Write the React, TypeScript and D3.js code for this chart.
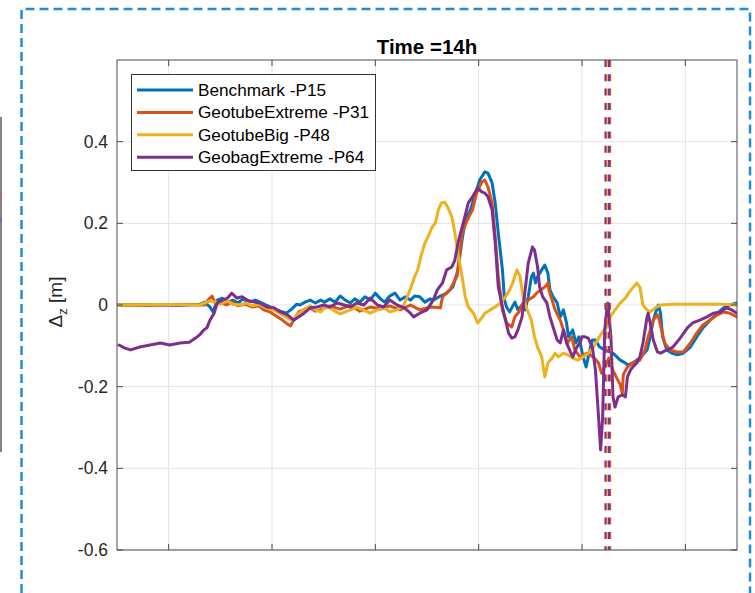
import React from "react";
import * as d3 from "d3";

// profile change dz [m] along the section, t = 14h
const seriesNames = [
  "Benchmark -P15",
  "GeotubeExtreme -P31",
  "GeotubeBig -P48",
  "GeobagExtreme -P64",
];
const seriesColors = ["#0072BD", "#D95319", "#EDB120", "#7E2F8E"];

const benchmark: [number, number][] = [
  [0, 0], [3, 0.001], [6, -0.001], [8, 0.002], [8.5, 0.007], [9, -0.005], [9.3, -0.017], [9.7, 0.012],
  [10.2, 0.017], [10.7, 0.007], [11.2, 0.012], [11.7, 0.005], [12.2, 0.015], [12.7, 0.007], [13.4, 0.012],
  [14, 0.005], [14.6, -0.002], [15.2, -0.01], [15.8, -0.015], [16.4, -0.02], [16.9, -0.01], [17.4, 0.002],
  [17.7, 0], [18.2, 0.007], [18.7, 0.012], [19.2, 0.005], [19.7, 0.012], [20.1, 0.007], [20.6, 0.015],
  [21.1, 0.007], [21.6, 0.022], [22.1, 0.012], [22.6, 0.005], [23, 0.015], [23.5, 0.007], [24, 0.02],
  [24.5, 0.012], [25, 0.029], [25.5, 0.015], [25.9, 0.007], [26.4, 0.022], [26.9, 0.029], [27.4, 0.012],
  [27.9, 0.02], [28.4, 0.012], [28.8, 0.022], [29.3, 0.02], [29.8, 0.007], [30.3, 0.015], [30.6, 0.012],
  [31.3, 0.022], [31.9, 0.029], [32.5, 0.044], [33, 0.086], [33.4, 0.16], [33.7, 0.208], [34.2, 0.233],
  [34.6, 0.265], [35.1, 0.306], [35.6, 0.326], [35.9, 0.323], [36.3, 0.299], [36.6, 0.25], [36.9, 0.176],
  [37.3, 0.086], [37.5, 0.012], [37.7, -0.005], [38, -0.017], [38.2, -0.007], [38.5, 0.007], [38.8, -0.012],
  [39.2, 0], [39.5, -0.012], [39.8, 0.02], [40.1, 0.069], [40.3, 0.078], [40.5, 0.054], [40.7, 0.069],
  [41.1, 0.086], [41.4, 0.098], [41.7, 0.078], [41.9, 0.037], [42.2, 0.02], [42.6, 0.005], [42.9, -0.029],
  [43.2, -0.012], [43.5, -0.044], [43.7, -0.078], [44.1, -0.061], [44.4, -0.093], [44.7, -0.078],
  [45.1, -0.127], [45.4, -0.152], [45.6, -0.127], [46, -0.086], [46.3, -0.086], [46.7, -0.103],
  [47.2, -0.11], [47.7, -0.115], [48, -0.118], [48.7, -0.135], [49.2, -0.142], [49.4, -0.147],
  [49.9, -0.142], [50.6, -0.13], [51.3, -0.11], [51.6, -0.078], [51.9, -0.037], [52.3, -0.005], [52.4, 0],
  [52.6, -0.02], [52.8, -0.078], [53.2, -0.11], [53.7, -0.118], [54.2, -0.122], [54.8, -0.118],
  [55.5, -0.103], [56.1, -0.078], [56.7, -0.056], [57.4, -0.037], [58.1, -0.02], [58.7, -0.007],
  [59.3, 0], [60, 0.005],
];

const geotubeExtreme: [number, number][] = [
  [0, 0], [3, -0.001], [6, 0.001], [8.5, 0], [8.8, 0.012], [9.2, 0.022], [9.6, 0], [10, 0.007], [10.6, 0],
  [11.1, 0.007], [11.7, -0.002], [12.4, 0.002], [13.1, -0.005], [13.7, -0.002], [14.2, -0.012],
  [14.8, -0.017], [15.4, -0.027], [16, -0.037], [16.5, -0.047], [16.8, -0.051], [17.2, -0.032],
  [17.6, -0.017], [18.2, -0.01], [18.7, -0.007], [19.2, -0.015], [19.7, -0.012], [20.6, -0.002],
  [21.6, -0.01], [22.6, 0], [23.5, -0.015], [24.5, -0.005], [25.5, -0.01], [26.4, -0.002], [27.4, -0.012],
  [28.4, 0], [29.3, -0.012], [30.3, -0.005], [31.3, -0.007], [31.5, 0.02], [32.2, 0.037], [32.9, 0.07],
  [33.4, 0.176], [33.9, 0.208], [34.4, 0.233], [34.8, 0.274], [35.3, 0.301], [35.6, 0.306], [35.9, 0.289],
  [36.3, 0.25], [36.6, 0.167], [36.9, 0.069], [37.3, -0.012], [37.7, -0.044], [38.2, -0.054],
  [38.5, -0.029], [38.9, -0.017], [39.3, 0.005], [39.8, 0.012], [40.3, 0.02], [40.6, 0.029], [41, 0.037],
  [41.4, 0.044], [41.7, 0.054], [41.8, 0.037], [42.1, 0.012], [42.4, -0.012], [42.9, -0.037],
  [43.2, -0.061], [43.6, -0.093], [44, -0.078], [44.3, -0.11], [44.8, -0.127], [45.5, -0.118],
  [46.1, -0.127], [46.6, -0.142], [46.9, -0.167], [47.2, -0.152], [47.6, -0.13], [48, -0.16],
  [48.3, -0.176], [48.7, -0.195], [48.9, -0.216], [49, -0.17], [49.4, -0.152], [49.9, -0.142],
  [50.6, -0.135], [51.1, -0.11], [51.4, -0.078], [51.9, -0.037], [52.3, -0.024], [52.4, -0.029],
  [52.7, -0.061], [53, -0.093], [53.5, -0.11], [54.2, -0.115], [54.8, -0.115], [55.5, -0.093],
  [56.1, -0.069], [56.7, -0.049], [57.4, -0.037], [58.1, -0.024], [58.7, -0.017], [59.3, -0.02],
  [60, -0.029],
];

const geotubeBig: [number, number][] = [
  [0, 0], [4, 0.001], [8, 0], [8.5, 0.005], [9, 0.01], [9.6, 0.007], [10, 0.002], [10.7, 0.01],
  [11.2, 0.002], [11.9, 0], [12.5, 0.005], [13.1, -0.002], [13.7, 0.002], [14.2, -0.005], [14.8, -0.01],
  [15.4, -0.015], [16, -0.024], [16.5, -0.032], [17, -0.037], [17.5, -0.022], [18.2, -0.01],
  [18.7, -0.002], [19.2, -0.012], [19.7, -0.017], [20.1, -0.007], [20.6, -0.007], [21.1, -0.015],
  [21.6, -0.022], [22.1, -0.017], [22.6, -0.012], [23.2, -0.005], [23.8, -0.012], [24.5, -0.02],
  [25.2, -0.012], [25.9, -0.007], [26.4, -0.017], [27.1, -0.012], [27.7, -0.002], [28.1, 0.02],
  [28.6, 0.054], [28.8, 0.069], [29.1, 0.086], [29.4, 0.118], [29.5, 0.127], [29.8, 0.152], [30.1, 0.167],
  [30.5, 0.191], [30.8, 0.2], [31.1, 0.233], [31.4, 0.25], [31.7, 0.252], [32, 0.24], [32.4, 0.216],
  [32.7, 0.176], [33, 0.127], [33.4, 0.069], [33.7, 0.02], [34, -0.005], [34.5, -0.02], [34.9, -0.044],
  [35.3, -0.032], [35.6, -0.02], [36.1, -0.012], [36.6, -0.005], [37.1, 0.005], [37.6, 0.02],
  [38, 0.037], [38.3, 0.054], [38.7, 0.086], [39, 0.07], [39.3, 0.02], [39.7, -0.012], [40.1, -0.037],
  [40.4, -0.078], [40.7, -0.103], [41.1, -0.127], [41.4, -0.176], [41.7, -0.142], [42.1, -0.13],
  [42.4, -0.118], [42.7, -0.127], [43.2, -0.118], [43.6, -0.122], [44.1, -0.13], [44.6, -0.135],
  [45.1, -0.127], [45.6, -0.118], [46.1, -0.103], [46.5, -0.086], [46.9, -0.069], [47.4, -0.054],
  [47.7, -0.03], [48.2, -0.012], [48.7, 0.005], [49.2, 0.017], [49.5, 0.029], [49.9, 0.042],
  [50.3, 0.054], [50.6, 0.044], [50.9, 0], [51.3, -0.012], [51.6, -0.017], [52.1, -0.007], [52.6, 0],
  [53.8, 0.002], [55.5, 0.002], [57.1, 0.002], [58.7, 0.002], [60, 0],
];

const geobagExtreme: [number, number][] = [
  [0.2, -0.098], [0.7, -0.105], [1.3, -0.11], [2.2, -0.103], [3.2, -0.098], [4.2, -0.093], [5.1, -0.098],
  [6.1, -0.093], [7, -0.091], [7.6, -0.081], [8, -0.073], [8.4, -0.061], [8.7, -0.056], [9, -0.037],
  [9.4, -0.02], [9.7, 0.005], [10.2, 0.012], [10.7, 0.017], [11.1, 0.029], [11.6, 0.017], [12.1, 0.02],
  [12.6, 0.012], [13.3, 0.007], [13.8, 0.005], [14.5, -0.005], [15.2, -0.007], [15.8, -0.017],
  [16.5, -0.024], [17.1, -0.037], [17.6, -0.029], [18.1, -0.02], [18.7, -0.007], [19.4, -0.005], [20, 0],
  [20.6, -0.005], [21.3, 0.005], [22, 0], [22.6, -0.005], [23.2, 0.005], [23.9, 0], [24.5, 0.017],
  [25.2, 0], [25.8, -0.005], [26.4, 0.012], [27.1, 0], [27.8, -0.007], [28.4, -0.02], [28.7, -0.029],
  [29.3, -0.02], [30, -0.012], [30.6, 0.012], [31, 0.037], [31.5, 0.054], [31.9, 0.086], [32.4, 0.093],
  [32.7, 0.11], [33, 0.152], [33.4, 0.191], [33.7, 0.22], [34, 0.25], [34.4, 0.265], [34.7, 0.277],
  [34.9, 0.287], [35.3, 0.277], [35.6, 0.274], [35.9, 0.265], [36.3, 0.233], [36.6, 0.152], [36.9, 0.044],
  [37.3, -0.005], [37.6, -0.037], [37.9, -0.069], [38.2, -0.081], [38.5, -0.078], [38.8, -0.061],
  [39.2, -0.029], [39.5, 0.037], [39.8, 0.103], [40.2, 0.142], [40.4, 0.135], [40.7, 0.093], [40.9, 0.044],
  [41.2, 0.02], [41.6, 0.005], [41.9, -0.029], [42.2, -0.054], [42.6, -0.086], [42.9, -0.093],
  [43.2, -0.061], [43.5, -0.093], [43.8, -0.11], [44.1, -0.127], [44.5, -0.103], [44.8, -0.093],
  [45, -0.078], [45.3, -0.078], [45.6, -0.081], [46, -0.103], [46.3, -0.159], [46.6, -0.274],
  [46.8, -0.355], [47, -0.274], [47.2, -0.061], [47.4, -0.012], [47.5, 0.005], [47.8, -0.078],
  [48, -0.225], [48.2, -0.25], [48.5, -0.225], [48.9, -0.22], [49.2, -0.225], [49.4, -0.176],
  [49.7, -0.159], [49.9, -0.152], [50.3, -0.142], [50.6, -0.127], [50.9, -0.093], [51.3, -0.029],
  [51.4, -0.02], [51.6, -0.044], [51.9, -0.086], [52.3, -0.115], [52.6, -0.118], [53.2, -0.11],
  [53.8, -0.103], [54.5, -0.081], [55.2, -0.056], [55.7, -0.044], [56.4, -0.037], [57.1, -0.029],
  [57.7, -0.02], [58.4, -0.017], [59, -0.007], [59.5, -0.012], [60, -0.02],
];

const allSeries = [benchmark, geotubeExtreme, geotubeBig, geobagExtreme];

const xTicks = [5, 15, 25, 35, 45, 55];
const yTicks = [-0.6, -0.4, -0.2, 0, 0.2, 0.4];
const yTickLabels = ["-0.6", "-0.4", "-0.2", "0", "0.2", "0.4"];
const markerX = 47.5; // position of the dashed marker line
const titleText = "Time =14h";

const font = "'Liberation Sans', Arial, Helvetica, sans-serif";

function App() {
  const W = 755;
  const H = 593;
  const left = 117, right = 737, top = 60, bottom = 550;

  const x = d3.scaleLinear().domain([0, 60]).range([left, right]);
  const y = d3.scaleLinear().domain([-0.6, 0.6]).range([bottom, top]);

  const pLine = d3
    .line<[number, number]>()
    .x((d) => x(d[0]))
    .y((d) => y(d[1]));

  const mx = x(markerX);

  return (
    <svg
      width={W}
      height={H}
      style={{ position: "absolute", left: 0, top: 0, background: "#fff" }}
      fontFamily={font}
    >
      <defs>
        <clipPath id="plot-clip">
          <rect x={left} y={top} width={right - left} height={bottom - top} />
        </clipPath>
      </defs>

      {/* bits of the neighbouring figure */}
      <line x1={1} x2={1} y1={117} y2={452} stroke="#5a5a5a" strokeWidth={1.5} />
      <rect x={0} y={195} width={2} height={4} fill="#c0607a" />
      <rect x={0} y={218} width={2} height={4} fill="#5a6fd0" />

      {/* dashed blue frame */}
      <path
        d={`M21.5,${H} V9 H750 V${H}`}
        fill="none"
        stroke="#1E8FD5"
        strokeWidth={2.5}
        strokeDasharray="9,5"
      />

      {/* axes background */}
      <rect x={left} y={top} width={right - left} height={bottom - top} fill="#fff" />

      {/* grid */}
      <g stroke="#e3e3e3" strokeWidth={1}>
        {xTicks.map((t) => (
          <line key={"gx" + t} x1={x(t)} x2={x(t)} y1={top} y2={bottom} />
        ))}
        {yTicks.map((t) => (
          <line key={"gy" + t} x1={left} x2={right} y1={y(t)} y2={y(t)} />
        ))}
      </g>

      {/* series */}
      <g clipPath="url(#plot-clip)" fill="none" strokeWidth={3} strokeLinejoin="round" strokeLinecap="round">
        {allSeries.map((s, i) => (
          <path key={seriesNames[i]} d={pLine(s) || ""} stroke={seriesColors[i]} />
        ))}
      </g>

      {/* marker line */}
      <g strokeDasharray="7,7.3">
        {[-1.8, 1.8].map((o) => (
          <g key={o}>
            <line x1={mx + o - 0.6} x2={mx + o - 0.6} y1={top} y2={bottom} stroke="#7E2F8E" strokeWidth={2} />
            <line x1={mx + o + 0.9} x2={mx + o + 0.9} y1={top} y2={bottom} stroke="#D95319" strokeWidth={1.2} />
          </g>
        ))}
      </g>

      {/* ticks */}
      <g stroke="#4d4d4d" strokeWidth={1}>
        {xTicks.map((t) => (
          <g key={"tx" + t}>
            <line x1={x(t)} x2={x(t)} y1={bottom} y2={bottom - 6} />
            <line x1={x(t)} x2={x(t)} y1={top} y2={top + 6} />
          </g>
        ))}
        {yTicks.map((t) => (
          <g key={"ty" + t}>
            <line x1={left} x2={left + 6} y1={y(t)} y2={y(t)} />
            <line x1={right} x2={right - 6} y1={y(t)} y2={y(t)} />
          </g>
        ))}
      </g>

      {/* box */}
      <rect x={left} y={top} width={right - left} height={bottom - top} fill="none" stroke="#4d4d4d" strokeWidth={1} />

      {/* y tick labels */}
      <g fontSize={17.5} fill="#262626" textAnchor="end">
        {yTicks.map((t, i) => (
          <text key={"yl" + t} x={left - 9} y={y(t)} dy="0.35em">
            {yTickLabels[i]}
          </text>
        ))}
      </g>

      {/* y label */}
      <text
        transform={`translate(62, ${y(0) - 3}) rotate(-90)`}
        textAnchor="middle"
        fontSize={19}
        fill="#262626"
      >
        Δ<tspan fontSize={13} dy={5}>z</tspan>
        <tspan dy={-5}> [m]</tspan>
      </text>

      {/* title */}
      <text x={(left + right) / 2} y={54} textAnchor="middle" fontSize={20.5} fontWeight="bold" fill="#000">
        {titleText}
      </text>

      {/* legend */}
      <g>
        <rect x={131.5} y={74.5} width={244} height={96} fill="#fff" stroke="#333" strokeWidth={1} />
        {seriesNames.map((n, i) => {
          const ly = 90 + i * 22.4;
          return (
            <g key={"lg" + n}>
              <line x1={137} x2={193} y1={ly} y2={ly} stroke={seriesColors[i]} strokeWidth={3} />
              <text x={198} y={ly} dy="0.35em" fontSize={17.2} fill="#000">
                {n}
              </text>
            </g>
          );
        })}
      </g>
    </svg>
  );
}

export default App;
